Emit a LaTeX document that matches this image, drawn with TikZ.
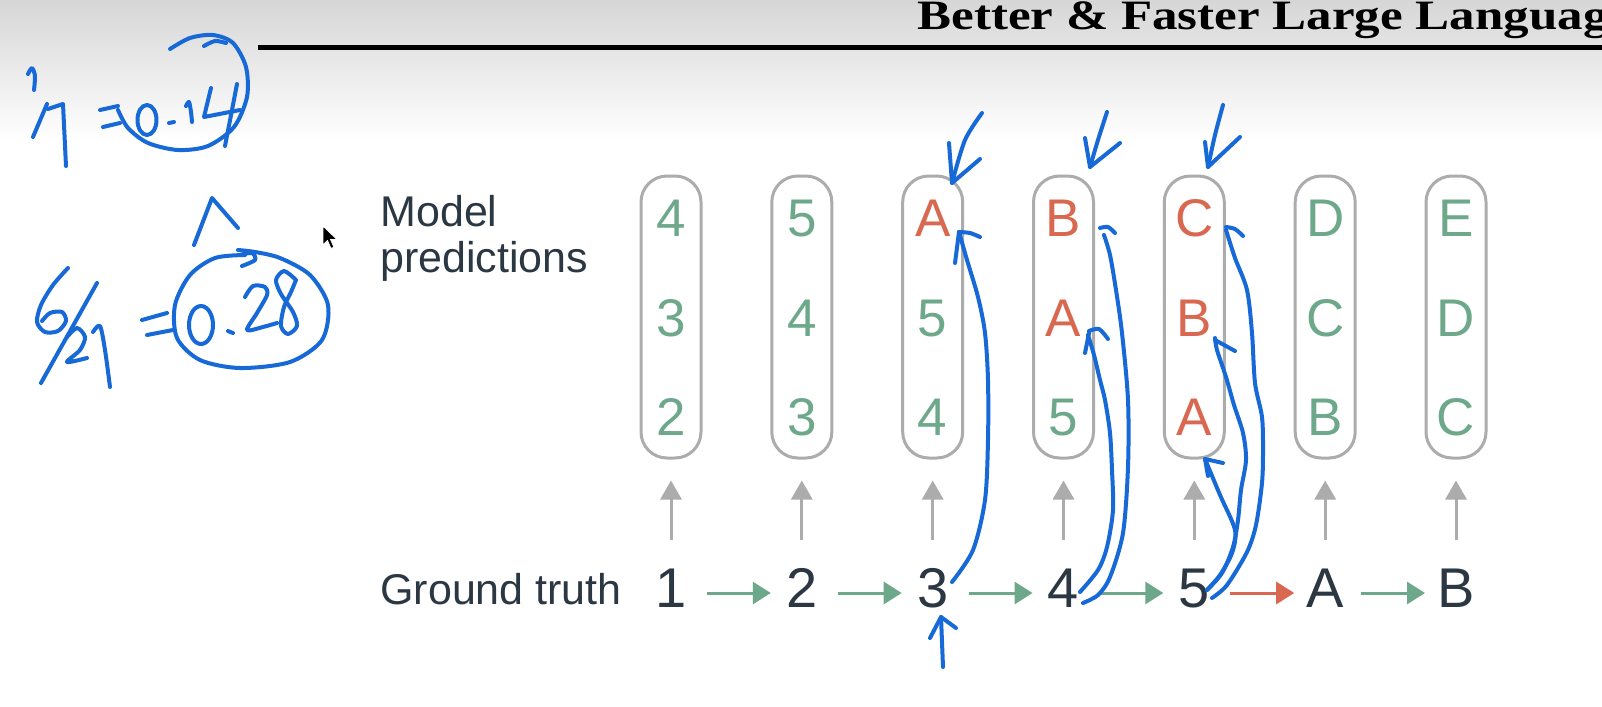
\documentclass[tikz,border=0pt]{standalone}
\usepackage{fontspec}
\setmainfont{Liberation Sans}
\newfontfamily\titleserif{Liberation Serif}
\usetikzlibrary{arrows.meta}
\definecolor{gtgreen}{HTML}{6DA88B}
\definecolor{gtred}{HTML}{D96850}
\definecolor{ink}{HTML}{2B3742}
\definecolor{boxgray}{HTML}{ACACAC}
\definecolor{pencol}{HTML}{1669D7}
\definecolor{bgtop}{HTML}{D6D6D6}
\tikzset{
  predbox/.style={draw=boxgray, line width=1.5pt, rounded corners=13pt, minimum width=30pt, minimum height=141pt, inner sep=0pt},
  predtxt/.style={anchor=base, inner sep=0pt, font=\fontsize{26.5pt}{30pt}\selectfont},
  gtxt/.style={anchor=base, inner sep=0pt, font=\fontsize{28pt}{32pt}\selectfont, text=ink},
  lbl/.style={anchor=base west, inner sep=0pt, font=\fontsize{21.5pt}{25pt}\selectfont, text=ink},
  grayarr/.style={draw=boxgray, line width=1.5pt, -{Triangle[length=9.5pt,width=10.5pt]}},
  seqarr/.style={line width=1.5pt, -{Triangle[length=9pt,width=11pt]}},
  hand/.style={draw=pencol, line width=2pt, line cap=round, line join=round}
}
\begin{document}
\begin{tikzpicture}[x=0.5pt,y=-0.5pt]
\clip (0,0) rectangle (1602,707);
\fill[white] (0,0) rectangle (1602,707);
\shade[top color=bgtop, bottom color=white] (0,0) rectangle (1602,140);
% header
\node[anchor=base west, inner sep=0pt, yscale=0.82, font=\titleserif\bfseries\fontsize{25.5pt}{28pt}\selectfont] (title) at (917,29) {Better \& Faster Large Language Models};
\draw[line width=2.5pt] (258,47) -- (1602,47);
% labels
\node[lbl] (mp1) at (380,226) {Model};
\node[lbl] (mp2) at (380,272) {predictions};
\node[lbl] (gtl) at (380,604) {Ground truth};
% prediction boxes
\foreach \i/\x/\a/\ca/\b/\cb/\c/\cc in {
  1/671/4/gtgreen/3/gtgreen/2/gtgreen,
  2/801.8/5/gtgreen/4/gtgreen/3/gtgreen,
  3/932.7/A/gtred/5/gtgreen/4/gtgreen,
  4/1063.5/B/gtred/A/gtred/5/gtgreen,
  5/1194.3/C/gtred/B/gtred/A/gtred,
  6/1325.2/D/gtgreen/C/gtgreen/B/gtgreen,
  7/1456/E/gtgreen/D/gtgreen/C/gtgreen}{
  \node[predbox] (b\i) at (\x,317) {};
  \node[predtxt, text=\ca] (p\i a) at (\x,236) {\a};
  \node[predtxt, text=\cb] (p\i b) at (\x,336) {\b};
  \node[predtxt, text=\cc] (p\i c) at (\x,435) {\c};
}
% ground truth
\foreach \i/\x/\t in {1/671/1,2/801.8/2,3/932.7/3,4/1063.5/4,5/1194.3/5,6/1325.2/A,7/1456/B}{
  \node[gtxt] (g\i) at (\x,607) {\t};
}
\foreach \i in {1,...,7}{
  \draw[grayarr] ([yshift=33.5pt]g\i.base) -- ([yshift=-10.5pt]b\i.south);
}
\foreach \i/\j/\col in {1/2/gtgreen,2/3/gtgreen,3/4/gtgreen,4/5/gtgreen,5/6/gtred,6/7/gtgreen}{
  \draw[seqarr, color=\col] ([xshift=18pt,yshift=7pt]g\i.base) -- ([xshift=-15.5pt,yshift=7pt]g\j.base);
}
% ---------- handwriting ----------
% 1/7 = 0.14
\draw[hand] plot[smooth] coordinates {(28,74) (32,68) (35,76) (34,90)};
\draw[hand] (33,137) -- (47,104);
\draw[hand] (48,109) -- (63,104) -- (66,166);
\draw[hand] (100,110) -- (118,106);
\draw[hand] (103,127) -- (120,123);
\draw[hand] plot[smooth] coordinates {(170,49) (190,38) (213,35) (233,43) (246,67) (247,97) (234,127) (208,146) (178,150) (148,143) (128,128) (118,110)};
\draw[hand] plot[smooth] coordinates {(204,46) (215,41) (226,43)};
\draw[hand] (147,120) ellipse [x radius=4.75pt, y radius=7.5pt];
\draw[hand] (169,123) -- (174,122);
\draw[hand] plot[smooth] coordinates {(186,106) (189,102) (191,112) (192,122)};
\draw[hand] (211,88) -- (204,117) -- (240,110);
\draw[hand] plot[smooth] coordinates {(237,84) (232,110) (225,146)};
% caret
\draw[hand] (194,245) -- (212,198) -- (238,228);
% 6/21 = 0.28
\draw[hand] plot[smooth] coordinates {(68,268) (53,285) (41,305) (37,322) (45,332) (58,331) (66,321) (62,312) (50,313) (42,321)};
\draw[hand] (97,283) -- (41,383);
\draw[hand] plot[smooth] coordinates {(67,337) (77,328) (85,337) (80,350) (67,362) (87,358)};
\draw[hand] plot[smooth] coordinates {(93,332) (100,326) (105,350) (110,387)};
\draw[hand] (142,320) -- (167,313);
\draw[hand] (147,335) -- (173,330);
\draw[hand] plot[smooth] coordinates {(245,255) (215,258) (190,275) (175,305) (177,338) (200,360) (240,368) (290,362) (322,340) (328,305) (310,275) (280,258) (255,252) (238,250)};
\draw[hand] plot[smooth] coordinates {(240,255) (252,253) (255,260) (242,266)};
\draw[hand] (201,325) ellipse [x radius=6pt, y radius=9.5pt];
\draw[hand] (228,331) -- (233,333);
\draw[hand] plot[smooth] coordinates {(245,297) (253,286) (265,287) (267,295) (257,313) (247,330) (263,327) (277,323)};
\draw[hand] plot[smooth] coordinates {(295,279) (284,271) (276,280) (281,294) (293,312) (297,326) (288,334) (281,326) (284,307) (291,292) (296,280)};
% cursor
\filldraw[fill=black, draw=white, line width=0.4pt] (323,226) -- ++(0,19) -- ++(4.5,-4.5) -- ++(3.5,8) -- ++(3,-1.3) -- ++(-3.5,-7.7) -- ++(6.5,0) -- cycle;
% down arrows above boxes
\draw[hand] plot[smooth] coordinates {(982,113) (965,140) (952,183)};
\draw[hand] (949,143) -- (952,183) -- (980,159);
\draw[hand] plot[smooth] coordinates {(1107,112) (1098,140) (1090,167)};
\draw[hand] (1085,138) -- (1090,167) -- (1120,143);
\draw[hand] plot[smooth] coordinates {(1223,105) (1215,135) (1208,167)};
\draw[hand] (1205,142) -- (1208,167) -- (1240,137);
% arrow 3 -> A
\draw[hand] plot[smooth] coordinates {(952,582) (973,550) (985,500) (988,440) (988,380) (985,333) (978,297) (967,260) (959,232)};
\draw[hand] (955,263) -- (959,232);
\draw[hand] plot[smooth] coordinates {(959,232) (970,233) (980,237)};
% arrow 4 -> A
\draw[hand] plot[smooth] coordinates {(1080,592) (1098,570) (1107,547) (1113,510) (1112,470) (1110,433) (1105,400) (1100,380) (1094,355) (1088,335)};
\draw[hand] (1085,353) -- (1089,333);
\draw[hand] plot[smooth] coordinates {(1089,331) (1099,329) (1108,339)};
% arrow 4 -> B
\draw[hand] plot[smooth] coordinates {(1083,603) (1098,595) (1110,577) (1123,533) (1128,467) (1128,400) (1122,333) (1116,290) (1110,255) (1104,235)};
\draw[hand] plot[smooth] coordinates {(1100,228) (1108,227) (1115,233)};
% arrow 5 -> A
\draw[hand] plot[smooth] coordinates {(1207,590) (1220,575) (1232,553) (1235,530) (1220,495) (1205,459)};
\draw[hand] (1208,476) -- (1205,459) -- (1223,463);
% arrow 5 -> B
\draw[hand] plot[smooth] coordinates {(1207,590) (1222,573) (1233,547) (1238,520) (1241,490) (1246,460) (1243,433) (1234,405) (1226,377) (1217,350) (1215,338)};
\draw[hand] (1215,340) -- (1235,351);
% arrow 5 -> C
\draw[hand] plot[smooth] coordinates {(1212,598) (1227,585) (1247,552) (1256,525) (1262,483) (1263,450) (1262,417) (1255,383) (1252,333) (1247,290) (1235,258) (1226,230)};
\draw[hand] plot[smooth] coordinates {(1226,227) (1235,229) (1243,236)};
% small arrow under 3
\draw[hand] (943,667) -- (941,617);
\draw[hand] (930,638) -- (941,617) -- (956,628);
\end{tikzpicture}
\end{document}
